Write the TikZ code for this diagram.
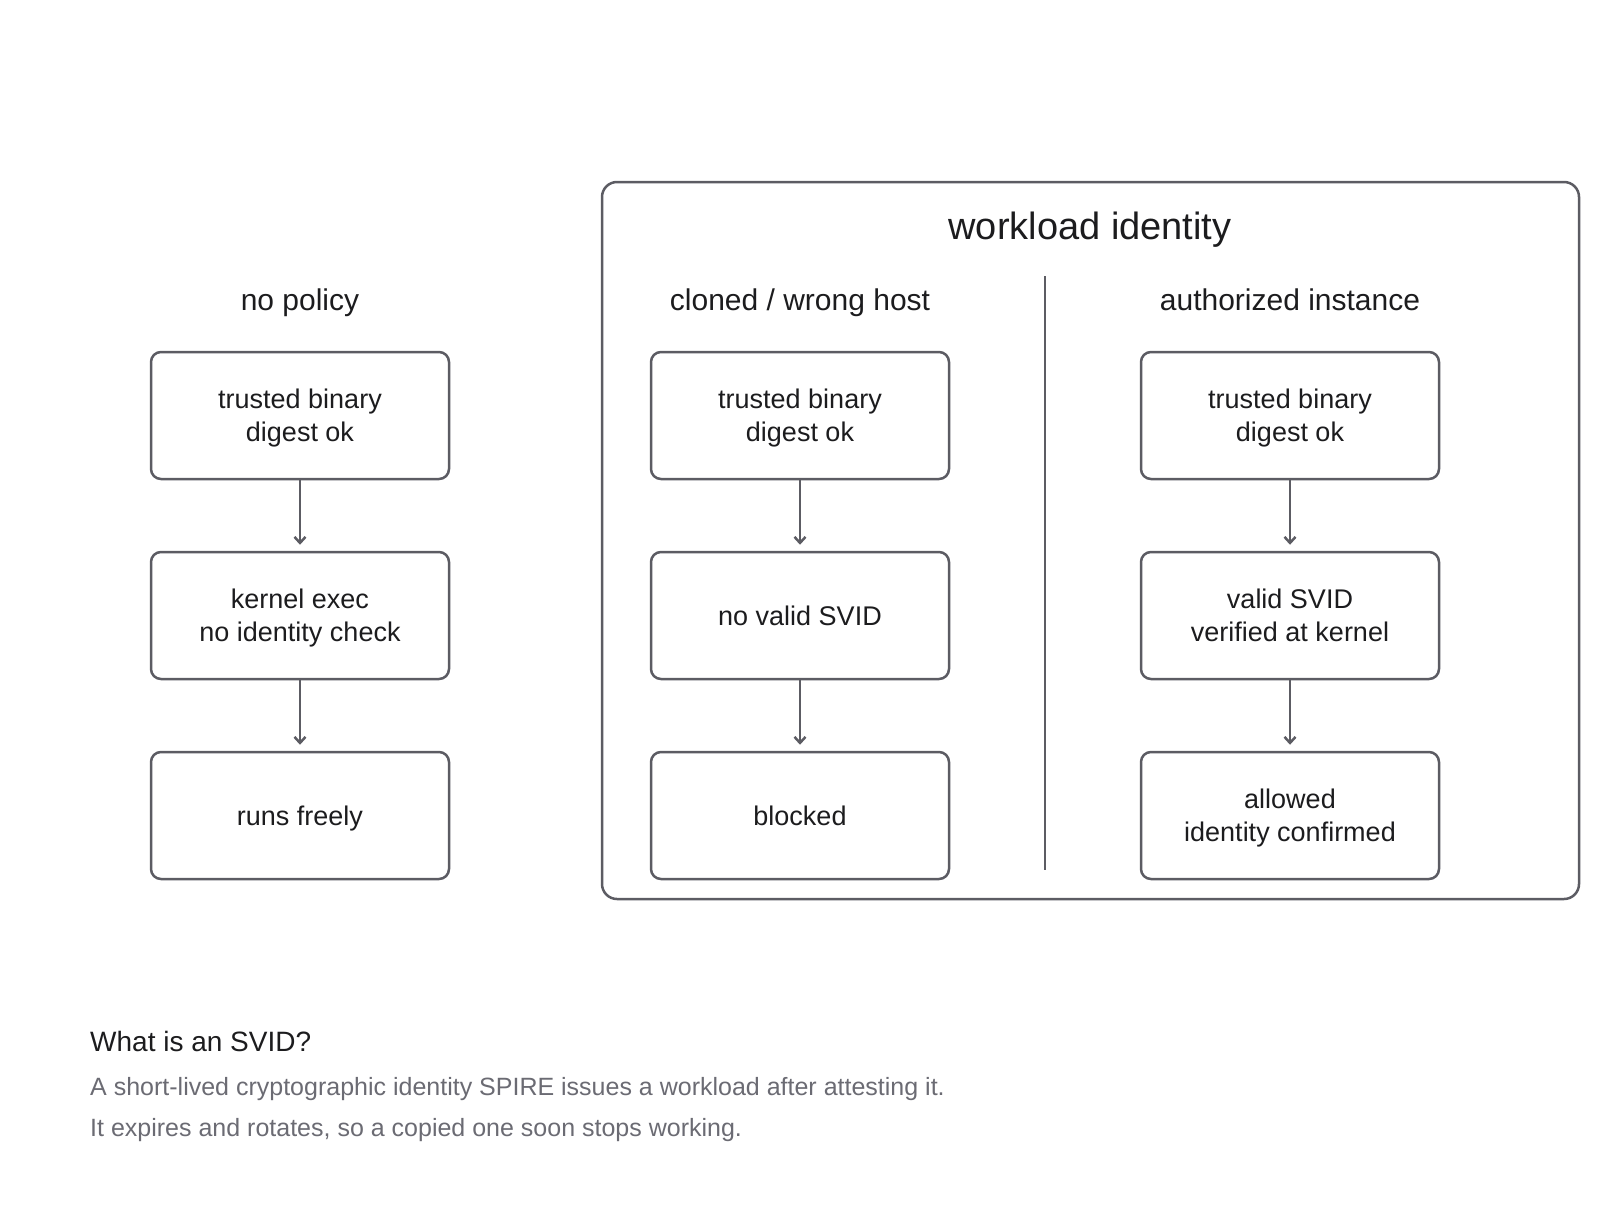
\documentclass[tikz,border=0pt]{standalone}
\usepackage{fontspec}
\setmainfont{Liberation Sans}
\usetikzlibrary{arrows.meta}
\definecolor{edgegray}{HTML}{5C5C63}
\definecolor{inkdark}{HTML}{1C1C1E}
\definecolor{notegray}{HTML}{6B6B73}
\begin{document}
\begin{tikzpicture}
			[x=1pt,y=-1pt,
			stepbox/.style={draw=edgegray,line width=2.5pt,rounded corners=10pt,minimum width=298pt,minimum height=127pt,align=center,text=inkdark,text depth=0pt,font=\fontsize{27}{33.3}\selectfont},
			colhead/.style={text=inkdark,text depth=0pt,font=\fontsize{30}{36}\selectfont},
			flow/.style={draw=edgegray,line width=2.5pt,-{Straight Barb[length=6pt,width=11pt]},shorten >=6pt},
			note/.style={anchor=west,inner sep=0pt,text=notegray,font=\fontsize{25}{30}\selectfont}]
			\useasboundingbox (0,0) rectangle (1600,1220);
			\draw[edgegray,line width=2.5pt,rounded corners=15pt] (602,182) rectangle (1579,899);
			\node[text=inkdark,text depth=0pt,font=\fontsize{38}{45}\selectfont] (title) at (1090,226) {workload identity};
			\draw[edgegray,line width=2.2pt] (1045,276) -- (1045,870);
			\node[colhead] (h1) at (300,300) {no policy};
			\node[colhead] (h2) at (800,300) {cloned / wrong host};
			\node[colhead] (h3) at (1290,300) {authorized instance};
			\node[stepbox] (A1) at (300,415.5) {trusted binary\\digest ok};
			\node[stepbox] (A2) at (300,615.5) {kernel exec\\no identity check};
			\node[stepbox] (A3) at (300,815.5) {runs freely};
			\node[stepbox] (B1) at (800,415.5) {trusted binary\\digest ok};
			\node[stepbox] (B2) at (800,615.5) {no valid SVID};
			\node[stepbox] (B3) at (800,815.5) {blocked};
			\node[stepbox] (C1) at (1290,415.5) {trusted binary\\digest ok};
			\node[stepbox] (C2) at (1290,615.5) {valid SVID\\verified at kernel};
			\node[stepbox] (C3) at (1290,815.5) {allowed\\identity confirmed};
			\draw[flow] (A1) -- (A2);
			\draw[flow] (A2) -- (A3);
			\draw[flow] (B1) -- (B2);
			\draw[flow] (B2) -- (B3);
			\draw[flow] (C1) -- (C2);
			\draw[flow] (C2) -- (C3);
			\node[note,text=inkdark,font=\fontsize{28}{34}\selectfont] (q) at (90,1041) {What is an SVID?};
			\node[note] (n1) at (90,1089) {A short-lived cryptographic identity SPIRE issues a workload after attesting it.};
			\node[note] (n2) at (90,1130) {It expires and rotates, so a copied one soon stops working.};
		\end{tikzpicture}
\end{document}
